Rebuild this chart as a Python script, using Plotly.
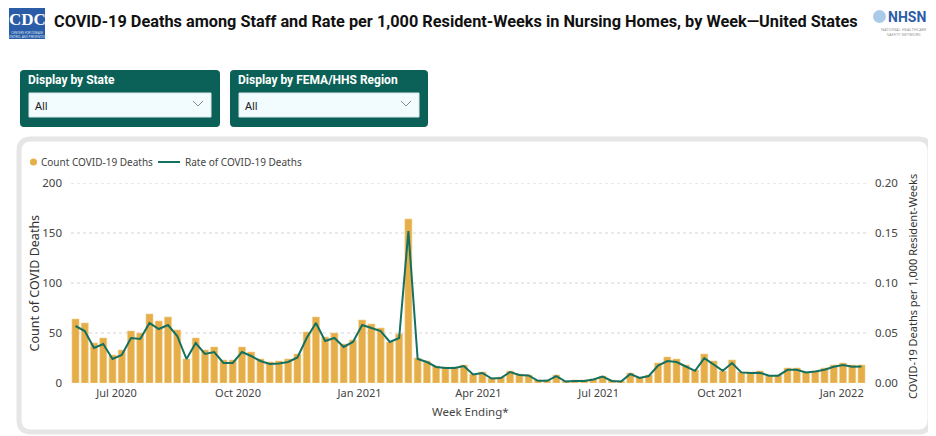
import pandas as pd
import plotly.graph_objects as go

# ---------------- data ----------------
week_start = "2020-05-31"
n_weeks = 86
counts = [64, 60, 40, 45, 28, 33, 52, 50, 69, 62, 66, 53, 24, 45, 33, 36, 23, 23, 36, 31,
          24, 21, 22, 24, 29, 51, 66, 46, 50, 39, 43, 63, 59, 55, 41, 49, 164, 25, 22, 17,
          16, 16, 18, 9, 11, 5, 6, 12, 9, 8, 3, 3, 8, 2, 3, 3, 4, 7, 3, 2,
          10, 6, 8, 20, 26, 24, 18, 13, 29, 22, 12, 23, 11, 11, 12, 7, 8, 15, 15, 11,
          12, 15, 18, 20, 18, 18]
rates = [0.057, 0.052, 0.035, 0.039, 0.024, 0.028, 0.045, 0.044, 0.060, 0.054, 0.058, 0.047,
         0.024, 0.040, 0.029, 0.031, 0.020, 0.020, 0.031, 0.027, 0.022, 0.019, 0.0195, 0.021,
         0.0255, 0.045, 0.060, 0.042, 0.045, 0.036, 0.041, 0.058, 0.055, 0.052, 0.041, 0.045,
         0.152, 0.024, 0.021, 0.016, 0.015, 0.015, 0.017, 0.0085, 0.010, 0.0045, 0.005, 0.011,
         0.008, 0.0075, 0.0022, 0.0022, 0.0068, 0.0015, 0.002, 0.002, 0.0035, 0.0065, 0.002,
         0.0015, 0.009, 0.005, 0.007, 0.0175, 0.022, 0.021, 0.0165, 0.0122, 0.0248, 0.0185,
         0.0122, 0.020, 0.0106, 0.010, 0.0103, 0.0073, 0.0073, 0.0132, 0.0132, 0.0106, 0.0115,
         0.0132, 0.0162, 0.018, 0.0162, 0.0166]
tick_dates = ["2020-07-01", "2020-10-01", "2021-01-01", "2021-04-01", "2021-07-01",
              "2021-10-01", "2022-01-01"]
tick_labels = ["Jul 2020", "Oct 2020", "Jan 2021", "Apr 2021", "Jul 2021", "Oct 2021", "Jan 2022"]
left_ticks = [0, 50, 100, 150, 200]
right_ticks = [0, 0.05, 0.10, 0.15, 0.20]

dates = pd.date_range(week_start, periods=n_weeks, freq="7D")

# ---------------- geometry helpers (page pixel coords; body has 8px margin) ----------------
OFF = 8
W, H = 936 - OFF, 436 - OFF
PL, PR, PT, PB = 71, 867, 183, 383   # plot area in page pixels


def px(x):
    return (x - PL) / (PR - PL)


def py(y):
    return (PB - y) / (PB - PT)


def rrect(x0, y0, x1, y1, r):
    a, b, c, d = px(x0), px(x1), py(y0), py(y1)
    rx = r / (PR - PL)
    ry = r / (PB - PT)
    return (f"M {a+rx},{c} L {b-rx},{c} Q {b},{c} {b},{c-ry} L {b},{d+ry} Q {b},{d} {b-rx},{d} "
            f"L {a+rx},{d} Q {a},{d} {a},{d+ry} L {a},{c-ry} Q {a},{c} {a+rx},{c} Z")


BAR = "#E6AE48"
LINE = "#14705F"
TEAL = "#0B6157"
TXT = "#444444"
FONT = "Noto Sans"

fig = go.Figure()
fig.add_trace(go.Bar(x=dates, y=counts, name="Count COVID-19 Deaths",
                     marker=dict(color=BAR, line=dict(color="#F0CF8F", width=0.6)),
                     width=5.3 * 86400000, yaxis="y"))
fig.add_trace(go.Scatter(x=dates, y=rates, name="Rate of COVID-19 Deaths", mode="lines",
                         line=dict(color=LINE, width=2), yaxis="y2"))

shapes = []
annotations = []


def text(t, x, y, size, color=TXT, family=FONT, xanchor="center", angle=0):
    annotations.append(dict(text=t, x=px(x), y=py(y), xref="paper", yref="paper",
                            xanchor=xanchor, yanchor="middle", showarrow=False, textangle=angle,
                            font=dict(family=family, size=size, color=color)))


# card
shapes.append(dict(type="path", path=rrect(19, 139, 930, 432, 12), xref="paper", yref="paper",
                   line=dict(color="#E6E6E6", width=5), fillcolor="white", layer="below"))
# gridlines
for v in left_ticks[1:]:
    shapes.append(dict(type="line", xref="paper", yref="y", x0=0, x1=1, y0=v, y1=v,
                       line=dict(color="#D4D4D4", width=1, dash="dot"), layer="below"))

# dropdown filters
for (x0, x1, label) in [(20, 220, "Display by State"), (230, 428, "Display by FEMA/HHS Region")]:
    shapes.append(dict(type="path", path=rrect(x0, 70, x1, 127, 4), xref="paper", yref="paper",
                       line=dict(color=TEAL, width=0), fillcolor=TEAL))
    shapes.append(dict(type="rect", xref="paper", yref="paper", x0=px(x0 + 9), x1=px(x1 - 9),
                       y0=py(93), y1=py(117), fillcolor="#F2FBFD",
                       line=dict(color="#DCE8EA", width=1)))
    text(f"<b>{label}</b>", x0 + 6, 80, 12, "white", "Roboto", "left")
    text("All", x0 + 13, 105, 11, "#222222", FONT, "left")
    cx = x1 - 22
    shapes.append(dict(type="path", xref="paper", yref="paper",
                       path=f"M {px(cx-5)},{py(101)} L {px(cx)},{py(106)} L {px(cx+5)},{py(101)}",
                       line=dict(color="#8A8A8A", width=1)))

# header: CDC logo
shapes.append(dict(type="rect", xref="paper", yref="paper", x0=px(9), x1=px(45), y0=py(6),
                   y1=py(39), fillcolor="#2A5CA8", line=dict(width=0)))
text("<b>CDC</b>", 27, 19, 17, "white", "Liberation Serif")
text("CENTERS FOR DISEASE<br>CONTROL AND PREVENTION", 27, 35, 3, "#DDE6F5")
# title
text("<b>COVID-19 Deaths among Staff and Rate per 1,000 Resident-Weeks in Nursing Homes, by Week\u2014United States</b>",
     52, 21, 16.3, "#111111", "Roboto", "left")
# NHSN logo
shapes.append(dict(type="circle", xref="paper", yref="paper", x0=px(873), x1=px(886),
                   y0=py(10), y1=py(23), fillcolor="#A9CBE8", line=dict(width=0)))
text("<b>NHSN</b>", 886, 17, 14, "#2E5DA8", "Roboto", "left")
text("NATIONAL HEALTHCARE<br>SAFETY NETWORK", 904, 32, 4, "#9A9A9A")

# custom legend
shapes.append(dict(type="circle", xref="paper", yref="paper", x0=px(30), x1=px(37),
                   y0=py(158.5), y1=py(165.5), fillcolor=BAR, line=dict(width=0)))
text("Count COVID-19 Deaths", 39, 162, 10, TXT, FONT, "left")
shapes.append(dict(type="line", xref="paper", yref="paper", x0=px(158), x1=px(180),
                   y0=py(162), y1=py(162), line=dict(color=LINE, width=2)))
text("Rate of COVID-19 Deaths", 183, 162, 10, TXT, FONT, "left")

# axis titles
text("Count of COVID Deaths", 33.5, 283, 12.5, "#333333", FONT, "center", -90)
text("COVID-19 Deaths per 1,000 Resident-Weeks", 912, 287, 11, "#333333", FONT, "center", -90)
text("Week Ending*", 470, 411, 11.5, TXT)

fig.update_layout(
    width=W, height=H, autosize=False,
    margin=dict(l=PL - OFF, r=W - (PR - OFF), t=PT - OFF, b=H - (PB - OFF), pad=0),
    paper_bgcolor="white", plot_bgcolor="rgba(0,0,0,0)",
    showlegend=False, bargap=0.2,
    font=dict(family=FONT, size=11, color=TXT),
    shapes=shapes, annotations=annotations,
    xaxis=dict(type="date", range=["2020-05-27 14:00", "2022-01-20 04:00"],
               tickvals=tick_dates, ticktext=tick_labels, showgrid=False, zeroline=False,
               ticks="", showline=False, tickfont=dict(size=11, color=TXT), ticklabelstandoff=2),
    yaxis=dict(range=[0, 200], tickvals=left_ticks, showgrid=False, zeroline=False, ticks="",
               tickfont=dict(size=11.5, color=TXT), ticklabelstandoff=8),
    yaxis2=dict(range=[0, 0.2], tickvals=right_ticks, tickformat=".2f", overlaying="y",
                side="right", showgrid=False, zeroline=False, ticks="",
                tickfont=dict(size=11.5, color=TXT), ticklabelstandoff=7),
)

fig.write_html("out.html")
